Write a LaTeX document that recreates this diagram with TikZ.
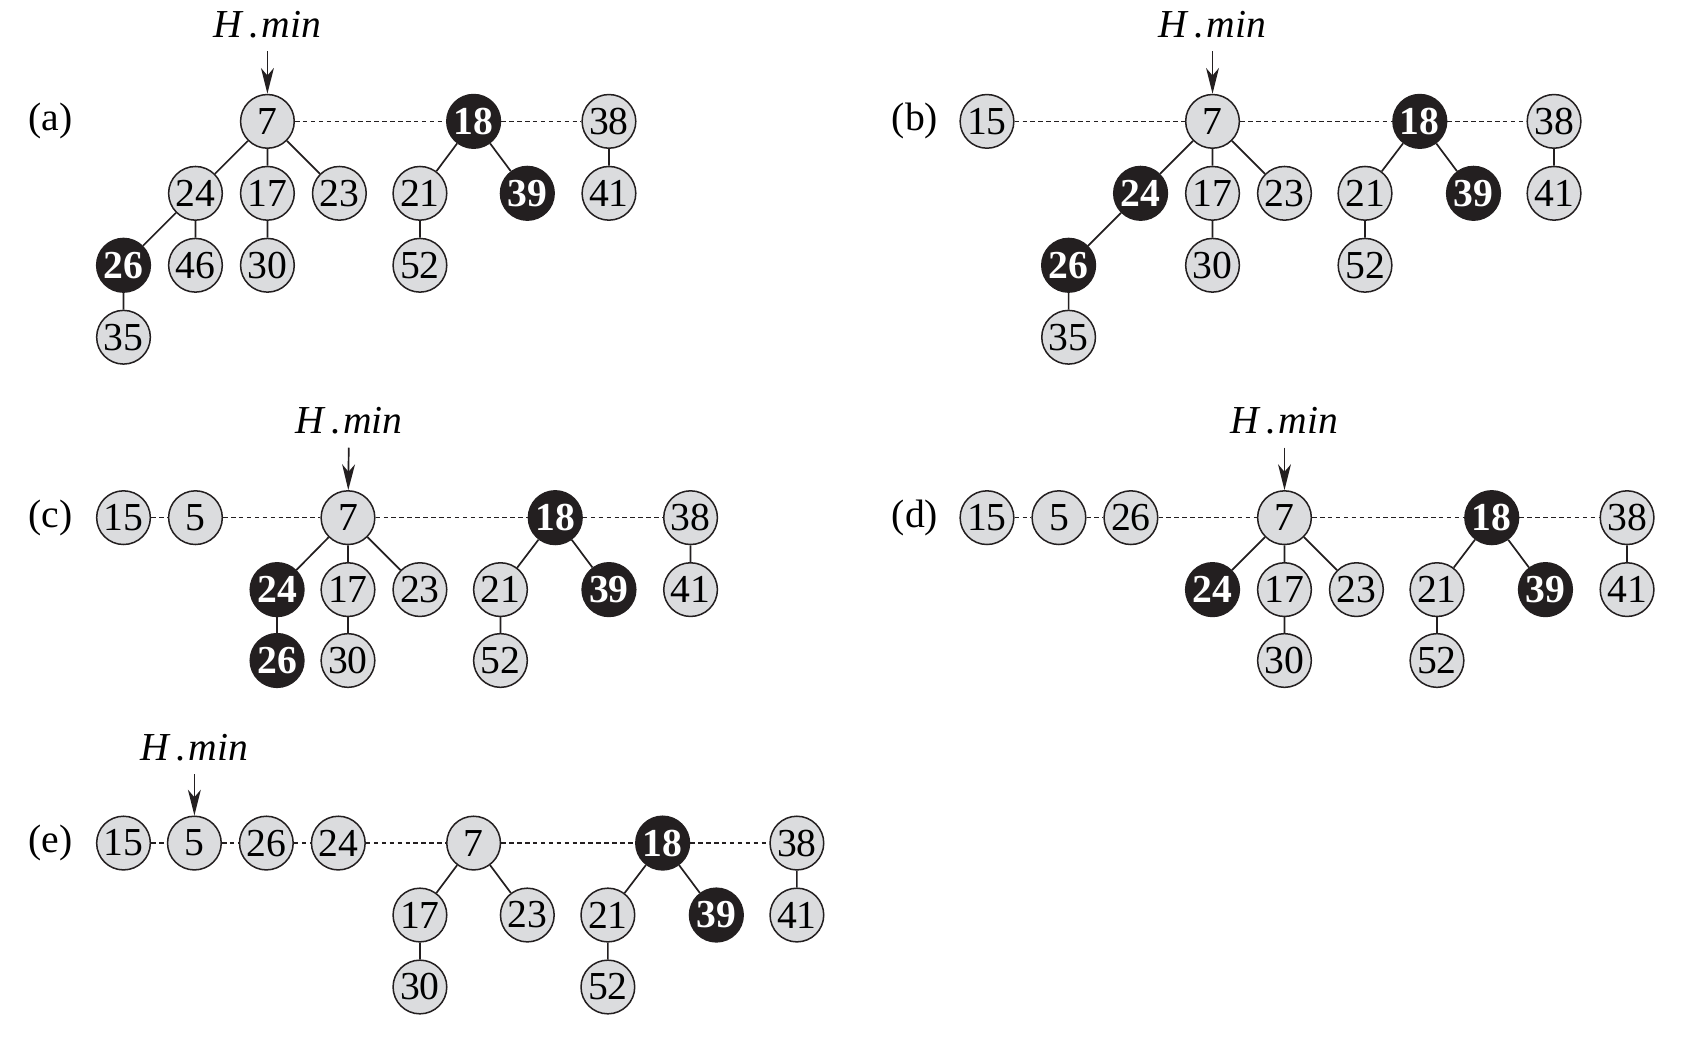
\documentclass[tikz,border=0pt]{standalone}
\usepackage{fontspec}
\setmainfont{Liberation Serif}
\usetikzlibrary{arrows.meta}
\definecolor{keygray}{RGB}{219,220,222}
\definecolor{keyblack}{RGB}{35,31,32}

\begin{document}
\begin{tikzpicture}[x=0.1mm,y=-0.1mm,
  key/.style={circle,draw=keyblack,fill=keygray,line width=0.4pt,minimum size=5mm,inner sep=0pt,font=\fontsize{10.5}{12}\selectfont},
  dark/.style={key,fill=keyblack,text=white,font=\fontsize{10.5}{12}\selectfont\bfseries},
  tree/.style={keyblack,line width=0.45pt},
  roots/.style={keyblack,line width=0.4pt,dash pattern=on 1.2pt off 0.9pt},
  tag/.style={font=\fontsize{10.5}{12}\selectfont},
  ptr/.style={keyblack,-{Stealth[length=2.4mm,width=1.2mm,inset=0.7mm]},line width=0.45pt}]
\useasboundingbox (0,0) rectangle (1568,983);

% (a)
\node [tag] (la) at (47,113) {(a)};
\node [tag] (ha) at (249,23) {\textit{H}\kern1.2pt.\kern0.8pt\textit{min}};
\node [key] (a7) at (249,113) {7};
\node [dark] (a18) at (441,113) {18};
\node [key] (a38) at (567,113) {38};
\node [key] (a24) at (182,180) {24};
\node [key] (a17) at (249,180) {17};
\node [key] (a23) at (316,180) {23};
\node [key] (a21) at (391,180) {21};
\node [dark] (a39) at (491,180) {39};
\node [key] (a41) at (567,180) {41};
\node [dark] (a26) at (115,247) {26};
\node [key] (a46) at (182,247) {46};
\node [key] (a30) at (249,247) {30};
\node [key] (a52) at (391,247) {52};
\node [key] (a35) at (115,314) {35};
\draw [ptr] (ha) -- (a7);
\draw [roots] (a7) -- (a18) -- (a38);
\draw [tree] (a7) -- (a24) (a7) -- (a17) (a7) -- (a23);
\draw [tree] (a24) -- (a26) (a24) -- (a46) (a17) -- (a30) (a26) -- (a35);
\draw [tree] (a18) -- (a21) (a18) -- (a39) (a21) -- (a52) (a38) -- (a41);

% (b)
\node [tag] (lb) at (852,113) {(b)};
\node [tag] (hb) at (1129,23) {\textit{H}\kern1.2pt.\kern0.8pt\textit{min}};
\node [key] (b15) at (919,113) {15};
\node [key] (b7) at (1129,113) {7};
\node [dark] (b18) at (1322,113) {18};
\node [key] (b38) at (1447,113) {38};
\node [dark] (b24) at (1062,180) {24};
\node [key] (b17) at (1129,180) {17};
\node [key] (b23) at (1196,180) {23};
\node [key] (b21) at (1271,180) {21};
\node [dark] (b39) at (1372,180) {39};
\node [key] (b41) at (1447,180) {41};
\node [dark] (b26) at (995,247) {26};
\node [key] (b30) at (1129,247) {30};
\node [key] (b52) at (1271,247) {52};
\node [key] (b35) at (995,314) {35};
\draw [ptr] (hb) -- (b7);
\draw [roots] (b15) -- (b7) -- (b18) -- (b38);
\draw [tree] (b7) -- (b24) (b7) -- (b17) (b7) -- (b23);
\draw [tree] (b24) -- (b26) (b26) -- (b35) (b17) -- (b30);
\draw [tree] (b18) -- (b21) (b18) -- (b39) (b21) -- (b52) (b38) -- (b41);

% (c)
\node [tag] (lc) at (47,482) {(c)};
\node [tag] (hc) at (325,392) {\textit{H}\kern1.2pt.\kern0.8pt\textit{min}};
\node [key] (c15) at (115,482) {15};
\node [key] (c5) at (182,482) {5};
\node [key] (c7) at (324,482) {7};
\node [dark] (c18) at (517,482) {18};
\node [key] (c38) at (643,482) {38};
\node [dark] (c24) at (258,549) {24};
\node [key] (c17) at (324,549) {17};
\node [key] (c23) at (391,549) {23};
\node [key] (c21) at (466,549) {21};
\node [dark] (c39) at (567,549) {39};
\node [key] (c41) at (643,549) {41};
\node [dark] (c26) at (258,615) {26};
\node [key] (c30) at (324,615) {30};
\node [key] (c52) at (466,615) {52};
\draw [ptr] (hc) -- (c7);
\draw [roots] (c15) -- (c5) -- (c7) -- (c18) -- (c38);
\draw [tree] (c7) -- (c24) (c7) -- (c17) (c7) -- (c23);
\draw [tree] (c24) -- (c26) (c17) -- (c30);
\draw [tree] (c18) -- (c21) (c18) -- (c39) (c21) -- (c52) (c38) -- (c41);

% (d)
\node [tag] (ld) at (852,482) {(d)};
\node [tag] (hd) at (1196,392) {\textit{H}\kern1.2pt.\kern0.8pt\textit{min}};
\node [key] (d15) at (919,482) {15};
\node [key] (d5) at (986,482) {5};
\node [key] (d26) at (1053,482) {26};
\node [key] (d7) at (1196,482) {7};
\node [dark] (d18) at (1389,482) {18};
\node [key] (d38) at (1515,482) {38};
\node [dark] (d24) at (1129,549) {24};
\node [key] (d17) at (1196,549) {17};
\node [key] (d23) at (1263,549) {23};
\node [key] (d21) at (1338,549) {21};
\node [dark] (d39) at (1439,549) {39};
\node [key] (d41) at (1515,549) {41};
\node [key] (d30) at (1196,615) {30};
\node [key] (d52) at (1338,615) {52};
\draw [ptr] (hd) -- (d7);
\draw [roots] (d15) -- (d5) -- (d26) -- (d7) -- (d18) -- (d38);
\draw [tree] (d7) -- (d24) (d7) -- (d17) (d7) -- (d23) (d17) -- (d30);
\draw [tree] (d18) -- (d21) (d18) -- (d39) (d21) -- (d52) (d38) -- (d41);

% (e)
\node [tag] (le) at (47,785) {(e)};
\node [tag] (he) at (181,696) {\textit{H}\kern1.2pt.\kern0.8pt\textit{min}};
\node [key] (e15) at (115,785) {15};
\node [key] (e5) at (181,785) {5};
\node [key] (e26) at (248,785) {26};
\node [key] (e24) at (315,785) {24};
\node [key] (e7) at (441,785) {7};
\node [dark] (e18) at (617,785) {18};
\node [key] (e38) at (742,785) {38};
\node [key] (e17) at (391,852) {17};
\node [key] (e23) at (491,852) {23};
\node [key] (e21) at (566,852) {21};
\node [dark] (e39) at (667,852) {39};
\node [key] (e41) at (742,852) {41};
\node [key] (e30) at (391,919) {30};
\node [key] (e52) at (566,919) {52};
\draw [ptr] (he) -- (e5);
\draw [roots] (e15) -- (e5) -- (e26) -- (e24) -- (e7) -- (e18) -- (e38);
\draw [tree] (e7) -- (e17) (e7) -- (e23) (e17) -- (e30);
\draw [tree] (e18) -- (e21) (e18) -- (e39) (e21) -- (e52) (e38) -- (e41);
\end{tikzpicture}
\end{document}
